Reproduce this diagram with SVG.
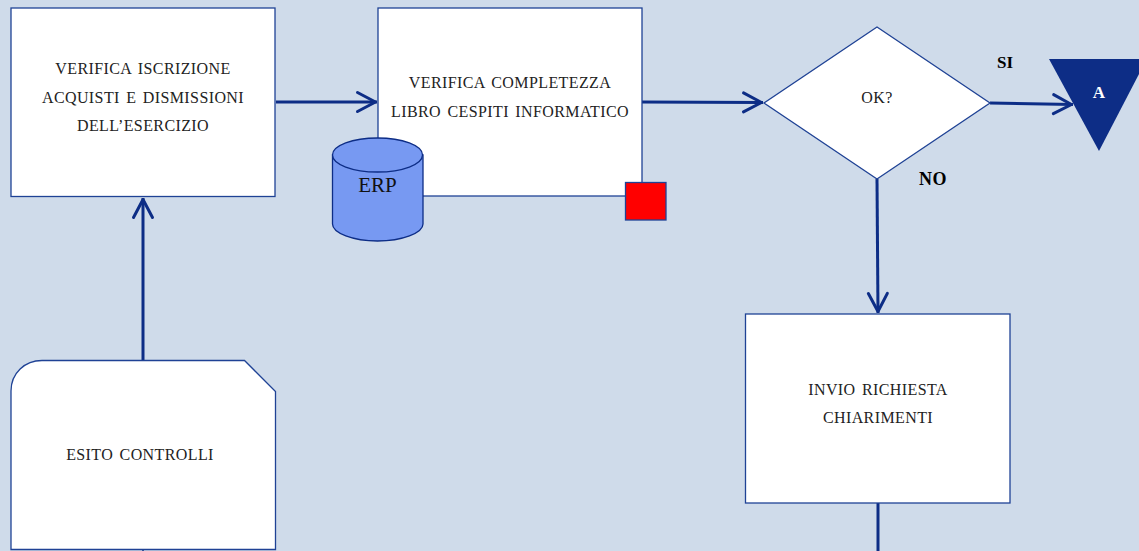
<svg xmlns="http://www.w3.org/2000/svg" width="1139" height="551" viewBox="0 0 1139 551">
<defs>
<marker id="arr" viewBox="0 0 24 24" markerUnits="userSpaceOnUse" markerWidth="24" markerHeight="24" refX="21.500" refY="12" orient="auto" overflow="visible"><path d="M2 2.500 L20 12 L2 21.500" fill="none" stroke="#0d2d86" stroke-width="3" stroke-linecap="round" stroke-linejoin="round"/></marker>
</defs>
<style>
.n{fill:#fff;stroke:#1f4295;stroke-width:1.300}
.c{fill:none;stroke:#0d2d86;stroke-width:3}
.a{marker-end:url(#arr)}
.t{font-family:"Liberation Serif",serif;font-size:16px;fill:#222;text-anchor:middle;letter-spacing:.4px;word-spacing:2px}
.b{font-family:"Liberation Serif",serif;font-size:17px;font-weight:bold;fill:#000;text-anchor:middle}
</style>
<rect width="1139" height="551" fill="#cfdbea"/>
<g id="connectors">
<path class="c a" d="M276 102H377"/>
<path class="c a" d="M642 102L763 102.500"/>
<path class="c a" d="M990 103L1073 104.500"/>
<path class="c a" d="M877 179L878 313"/>
<path class="c a" d="M143 360V198"/>
<path class="c" d="M878 503V551"/>
<path d="M143 549V551" stroke="#0d2d86" stroke-width="1.500" fill="none"/>
</g>
<g id="verifica-iscrizione"><rect class="n" x="11" y="8" width="264" height="188.500"/>
<text class="t" x="143" y="74">VERIFICA ISCRIZIONE</text><text class="t" x="143" y="103">ACQUISTI E DISMISSIONI</text><text class="t" x="143" y="131">DELL’ESERCIZIO</text></g>
<g id="verifica-completezza"><rect class="n" x="378" y="8" width="264" height="188"/>
<text class="t" x="510" y="88">VERIFICA COMPLETEZZA</text><text class="t" x="510" y="117">LIBRO CESPITI INFORMATICO</text></g>
<g id="erp"><path d="M332.500 155V224C332.500 233 353 241 377.500 241S423 233 423 224V155Z" fill="#7799f2" stroke="#0d2d86" stroke-width="1.300"/><ellipse cx="377.500" cy="155" rx="45" ry="17" fill="#7799f2" stroke="#0d2d86" stroke-width="1.300"/>
<text x="377.500" y="192" font-family="'Liberation Serif',serif" font-size="21" fill="#111" text-anchor="middle">ERP</text></g>
<g id="red-marker"><rect x="625.500" y="182.500" width="40.500" height="37.500" fill="#ff0000" stroke="#1f4295" stroke-width="1.300"/></g>
<g id="ok"><path class="n" d="M877 27L990 103L877 179L764 103Z"/><text class="t" x="877" y="103">OK?</text></g>
<g id="si-label"><text class="b" x="1005" y="68">SI</text></g>
<g id="no-label"><text class="b" x="933" y="185" style="font-size:18px;letter-spacing:.5px">NO</text></g>
<g id="a"><path d="M1049 59H1139V74L1099 151Z" fill="#0d2d86"/><text x="1099" y="98" font-family="'Liberation Serif',serif" font-size="17" font-weight="bold" fill="#fff" text-anchor="middle">A</text></g>
<g id="invio"><rect class="n" x="745.500" y="314" width="264.500" height="189"/><text class="t" x="878" y="395">INVIO RICHIESTA</text><text class="t" x="878" y="423">CHIARIMENTI</text></g>
<g id="esito"><path class="n" d="M11 549.500V391C11 373 25 360.500 42 360.500H244.500L275.500 391.500V549.500Z"/><text class="t" x="140" y="460">ESITO CONTROLLI</text></g>
</svg>
